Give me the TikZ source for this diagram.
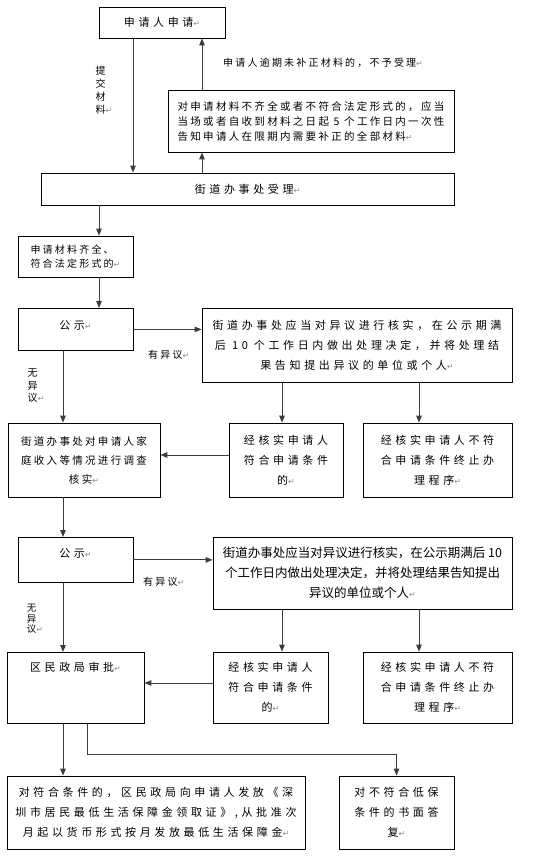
\documentclass[tikz,border=0pt]{standalone}
\usepackage{fontspec}
\usetikzlibrary{arrows.meta}
\newfontfamily\cjk{Noto Sans CJK SC}
\newfontfamily\cjkwide[LetterSpace=22]{Noto Sans CJK SC}
\newfontfamily\cjkwider[LetterSpace=33]{Noto Sans CJK SC}
\newfontfamily\symfont{DejaVu Sans}
\definecolor{lineGray}{RGB}{60,60,60}
\definecolor{markGray}{RGB}{140,140,140}
\tikzstyle{flowchart} = [x = 1pt, y = -1pt]
\tikzstyle{boxStyle} = [draw=black, line width=0.8pt, inner sep=0pt, align=center, font=\cjkwide\fontsize{10.5}{15}\selectfont]
\tikzstyle{wideText} = [font=\cjkwider\fontsize{11}{20}\selectfont]
\tikzstyle{plainText} = [font=\cjk\fontsize{12.5}{20}\selectfont]
\tikzstyle{labelText} = [inner sep=0pt, align=left, font=\cjkwide\fontsize{10}{13}\selectfont]
\tikzstyle{arrowStyle} = [draw=lineGray, line width=1pt, -{Triangle[length=7pt, width=5.5pt]}]
\newcommand{\ret}{{\color{markGray}\symfont\fontsize{8}{8}\selectfont ↵}}
% box from corner (#2,#3) to corner (#4,#5), text #6, extra options #7
\newcommand{\flowBox}[7]{\node [boxStyle, #7, minimum width={(#4-#2)*1pt}, minimum height={(#5-#3)*1pt}] (#1) at ({(#2+#4)/2}, {(#3+#5)/2}) {#6};}
% same, with a single line of text at baseline #7
\newcommand{\flowBoxTop}[7]{\node [boxStyle, wideText, anchor=north, minimum width={(#4-#2)*1pt}, text height={(#7-#3)*1pt}, text depth={(#5-#7)*1pt}] (#1) at ({(#2+#4)/2}, #3) {#6};}

\begin{document}
\begin{tikzpicture}[flowchart]
  \useasboundingbox (0,0) rectangle (547,856);

  \flowBox{apply}{99}{7}{225}{38}{申请人申请\ret}{wideText}
  \flowBox{notice}{168}{90}{454}{152}{对申请材料不齐全或者不符合法定形式的，应当\\当场或者自收到材料之日起 5 个工作日内一次性\\告知申请人在限期内需要补正的全部材料\ret}{align=left}
  \flowBox{accept}{41}{173}{454}{205}{街道办事处受理\ret}{wideText}
  \flowBox{complete}{18}{236}{133}{277}{申请材料齐全、\\符合法定形式的\ret}{align=left, font=\cjkwide\fontsize{10}{14}\selectfont}
  \flowBoxTop{publicA}{18}{308}{133}{350}{公示\ret}{329}
  \flowBox{verifyA}{202}{308}{512}{382}{街道办事处应当对异议进行核实，在公示期满\\后 10 个工作日内做出处理决定，并将处理结\\果告知提出异议的单位或个人\ret}{wideText}
  \flowBox{survey}{8}{423}{160}{497}{街道办事处对申请人家\\庭收入等情况进行调查\\核实\ret}{font=\cjkwide\fontsize{10.5}{19}\selectfont}
  \flowBox{passA}{229}{423}{343}{497}{经核实申请人\\符合申请条件\\的\ret}{wideText}
  \flowBox{failA}{363}{423}{512}{497}{经核实申请人不符\\合申请条件终止办\\理程序\ret}{wideText}

  \flowBoxTop{publicB}{18}{537}{133}{582}{公示\ret}{557}
  \flowBox{verifyB}{213}{537}{512}{609}{街道办事处应当对异议进行核实，在公示期满后 10\\个工作日内做出处理决定，并将处理结果告知提出\\异议的单位或个人\ret}{plainText}
  \flowBoxTop{approve}{7}{652}{144}{723}{区民政局审批\ret}{671}
  \flowBox{passB}{213}{652}{328}{723}{经核实申请人\\符合申请条件\\的\ret}{wideText}
  \flowBox{failB}{363}{652}{512}{723}{经核实申请人不符\\合申请条件终止办\\理程序\ret}{wideText}
  \flowBox{grant}{7}{776}{305}{849}{对符合条件的，区民政局向申请人发放《深\\圳市居民最低生活保障金领取证》,从批准次\\月起以货币形式按月发放最低生活保障金\ret}{wideText}
  \flowBox{reject}{339}{776}{454}{849}{对不符合低保\\条件的书面答\\复\ret}{wideText}

  % labels on the arrows
  \node [labelText] (submitLabel) at (104,90) {提\\交\\材\\料\ret};
  \node [labelText, anchor=west] (lateLabel) at (223,63) {申请人逾期未补正材料的，不予受理\ret};
  \node [labelText, anchor=west] (objectA) at (148,355) {有异议\ret};
  \node [labelText, font=\cjkwide\fontsize{10}{12.5}\selectfont] (noObjectA) at (36,386) {无\\异\\议\ret};
  \node [labelText, anchor=west] (objectB) at (143,582) {有异议\ret};
  \node [labelText, font=\cjkwide\fontsize{9.5}{10.5}\selectfont] (noObjectB) at (35,619) {无\\异\\议\ret};

  % connectors
  \draw [arrowStyle] ([xshift=-29pt]apply.south) -- ([xshift=-29pt]apply.south |- accept.north);
  \draw [arrowStyle] ([xshift=-109pt]notice.south |- accept.north) -- ([xshift=-109pt]notice.south);
  \draw [arrowStyle] ([xshift=-109pt]notice.north) -- ([xshift=-109pt]notice.north |- apply.south);
  \draw [arrowStyle] ([xshift=23.5pt]complete.north |- accept.south) -- ([xshift=23.5pt]complete.north);
  \draw [arrowStyle] ([xshift=23.5pt]complete.south) -- ([xshift=23.5pt]complete.south |- publicA.north);
  \draw [arrowStyle] (publicA.east) -- (publicA.east -| verifyA.west);
  \draw [arrowStyle] ([xshift=-12.5pt]publicA.south) -- ([xshift=-12.5pt]publicA.south |- survey.north);
  \draw [arrowStyle] ([xshift=-4pt]passA.north |- verifyA.south) -- ([xshift=-4pt]passA.north);
  \draw [arrowStyle] ([xshift=-18.5pt]failA.north |- verifyA.south) -- ([xshift=-18.5pt]failA.north);
  \draw [arrowStyle] ([yshift=5pt]passA.west) -- ([yshift=5pt]passA.west -| survey.east);
  \draw [arrowStyle] ([xshift=-21pt]survey.south) -- ([xshift=-21pt]survey.south |- publicB.north);
  \draw [arrowStyle] (publicB.east) -- (publicB.east -| verifyB.west);
  \draw [arrowStyle] ([xshift=-12.5pt]publicB.south) -- ([xshift=-12.5pt]publicB.south |- approve.north);
  \draw [arrowStyle] ([xshift=11.5pt]passB.north |- verifyB.south) -- ([xshift=11.5pt]passB.north);
  \draw [arrowStyle] ([xshift=-18.5pt]failB.north |- verifyB.south) -- ([xshift=-18.5pt]failB.north);
  \draw [arrowStyle] ([yshift=4.5pt]passB.west) -- ([yshift=4.5pt]passB.west -| approve.east);
  \draw [arrowStyle] ([xshift=-12.5pt]approve.south) -- ([xshift=-12.5pt]approve.south |- grant.north);
  \draw [arrowStyle] ([xshift=11.5pt]approve.south) |- ([yshift=21pt]reject.north) -- (reject.north);
\end{tikzpicture}
\end{document}
